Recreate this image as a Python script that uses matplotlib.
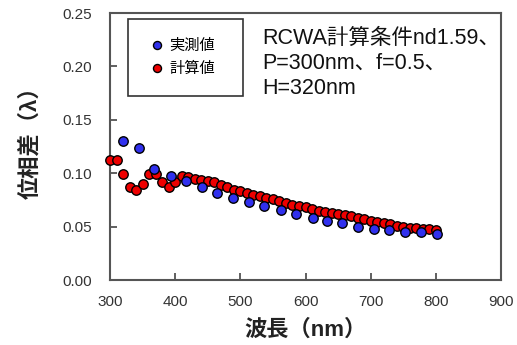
import matplotlib
matplotlib.use("Agg")
import matplotlib.pyplot as plt
import numpy as np

plt.rcParams['font.family'] = ['Liberation Sans', 'Noto Sans CJK JP', 'DejaVu Sans']

# 実測値 (measured)
wl_meas = [320, 345, 368, 393, 416, 441, 464, 488, 513, 536, 562,
           586, 611, 633, 656, 680, 705, 728, 752, 777, 802]
pd_meas = [0.130, 0.124, 0.104, 0.097, 0.093, 0.087, 0.081, 0.0765, 0.073, 0.069, 0.0655,
           0.0615, 0.0585, 0.0555, 0.053, 0.050, 0.0475, 0.0468, 0.045, 0.0446, 0.043]

# 計算値 (RCWA)
wl_calc = list(range(300, 801, 10))
pd_calc = [0.112, 0.112, 0.099, 0.087, 0.084, 0.090, 0.099, 0.099, 0.092, 0.087,
           0.092, 0.0975, 0.0965, 0.095, 0.094, 0.093, 0.0915, 0.089, 0.087, 0.0845,
           0.083, 0.081, 0.080, 0.0785, 0.077, 0.0755, 0.074, 0.072, 0.0705, 0.069,
           0.068, 0.0665, 0.065, 0.0635, 0.0625, 0.0615, 0.0605, 0.0595, 0.0585, 0.057,
           0.0555, 0.054, 0.053, 0.052, 0.051, 0.050, 0.049, 0.0485, 0.048, 0.0475, 0.047]

fig = plt.figure(figsize=(5.17, 3.45), dpi=100)
ax = fig.add_axes([0.2128, 0.1884, 0.7563, 0.7739])

ax.plot(wl_calc, pd_calc, 'o', color='#ee0000', mec='black', mew=1.0, ms=6.8,
        label='計算値', clip_on=False, zorder=3)
ax.plot(wl_meas, pd_meas, 'o', color='#3030ee', mec='black', mew=1.0, ms=6.8,
        label='実測値', clip_on=False, zorder=4)

ax.set_xlim(300, 900)
ax.set_ylim(0, 0.25)
ax.set_xticks(np.arange(300, 901, 100))
ax.set_yticks(np.arange(0, 0.251, 0.05))
ax.yaxis.set_major_formatter(matplotlib.ticker.FormatStrFormatter('%.2f'))
ax.tick_params(direction='in', length=5, width=1.2, colors='#444444',
               labelcolor='#333333', labelsize=11, top=False, right=False)
ax.tick_params(axis='x', pad=11)
ax.tick_params(axis='y', pad=13)
for s in ax.spines.values():
    s.set_color('#555555')
    s.set_linewidth(1.5)

ax.set_xlabel('波長（nm）', fontsize=16, fontweight='bold', color='#222222', labelpad=7)
ax.set_ylabel('位相差（λ）', fontsize=16, fontweight='bold', color='#222222', labelpad=15)
ax.yaxis.label.set_y(0.535)

h, l = ax.get_legend_handles_labels()
leg = ax.legend(h[::-1], l[::-1], loc='upper left',
                bbox_to_anchor=(0.046, 0.697, 0.294, 0.281), mode='expand',
                fontsize=11, frameon=True, fancybox=False, borderpad=1.3,
                labelspacing=0.6, handletextpad=0.2, handlelength=1.2,
                borderaxespad=0, markerscale=0.85)
leg.get_frame().set_edgecolor('black')
leg.get_frame().set_linewidth(1.2)

ax.text(0.389, 0.945, 'RCWA計算条件nd1.59、\nP=300nm、f=0.5、\nH=320nm',
        transform=ax.transAxes, ha='left', va='top', fontsize=15.5,
        linespacing=1.25, color='#111111')

fig.savefig('out.png', dpi=100)
